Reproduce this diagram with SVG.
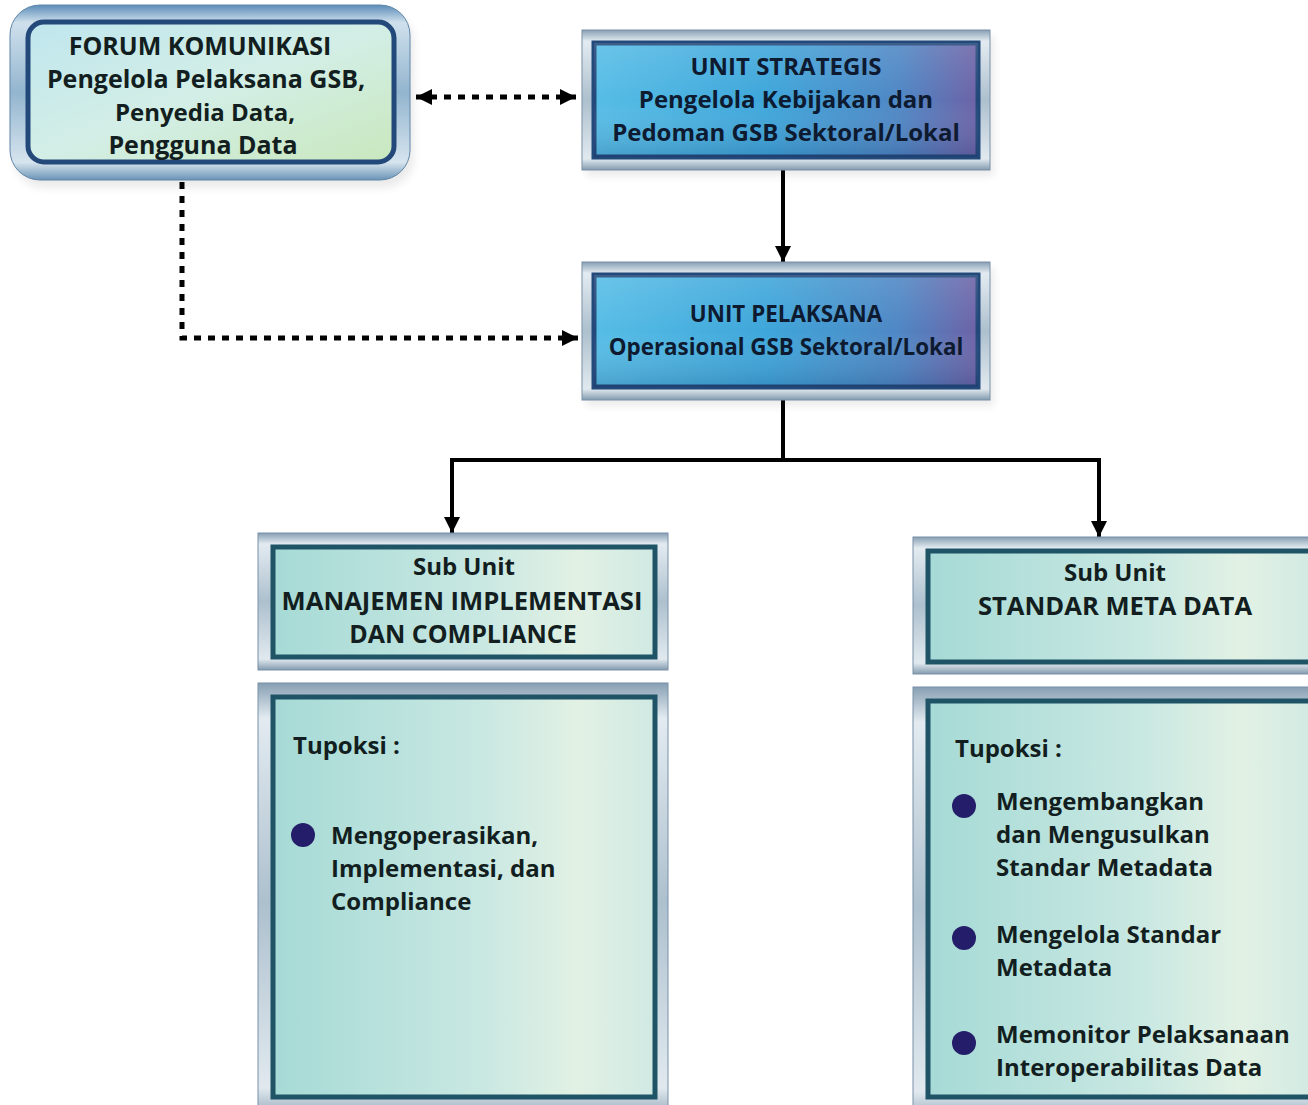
<svg xmlns="http://www.w3.org/2000/svg" width="1308" height="1105" viewBox="0 0 1308 1105">
  <defs>
    <style>
      .t { font-family: "Open Sans", "Noto Sans", "Liberation Sans", sans-serif; font-weight: 700; font-size: 24px; fill: #121e20; }
      .c { text-anchor: middle; }
      .navy { fill: #0d1a30; }
      .s22 { font-size: 22.4px; }
      .s25 { font-size: 25px; }
      .s26 { font-size: 25.6px; }
      .bezel { fill: url(#bezelGrad); stroke: #7890a6; stroke-width: 1; }
      .bezelBlue { fill: url(#bezelBlueGrad); stroke: #5f86a8; stroke-width: 1; }
      .frameTeal { stroke: #1f5366; stroke-width: 5; }
      .frameBlue { stroke: #23487a; stroke-width: 5; }
      .solid { fill: none; stroke: #000; stroke-width: 4; }
      .dotted { fill: none; stroke: #000; stroke-width: 5; stroke-dasharray: 7 7; }
      .bullet { fill: #241e6a; }
      .shadow { fill: #000; opacity: 0.08; filter: url(#soft); }
    </style>
    <linearGradient id="bezelGrad" x1="0" y1="0" x2="0" y2="1">
      <stop offset="0" stop-color="#879fb3"/>
      <stop offset="0.08" stop-color="#e3ebf1"/>
      <stop offset="0.5" stop-color="#adc0ce"/>
      <stop offset="0.92" stop-color="#e1e9ef"/>
      <stop offset="1" stop-color="#839bae"/>
    </linearGradient>
    <linearGradient id="bezelBlueGrad" x1="0" y1="0" x2="0" y2="1">
      <stop offset="0" stop-color="#5b8cb8"/>
      <stop offset="0.1" stop-color="#cfe0ec"/>
      <stop offset="0.5" stop-color="#93b5cf"/>
      <stop offset="0.9" stop-color="#d6e4ee"/>
      <stop offset="1" stop-color="#6a93b6"/>
    </linearGradient>
    <linearGradient id="forumFill" x1="0" y1="0" x2="1" y2="1">
      <stop offset="0" stop-color="#bfe6ee"/>
      <stop offset="0.5" stop-color="#d3eee6"/>
      <stop offset="1" stop-color="#c9e8bd"/>
    </linearGradient>
    <linearGradient id="blueFill" x1="0" y1="0" x2="1" y2="0">
      <stop offset="0" stop-color="#56bde6"/>
      <stop offset="0.45" stop-color="#3ea6da"/>
      <stop offset="0.8" stop-color="#4f86c4"/>
      <stop offset="1" stop-color="#6d62a6"/>
    </linearGradient>
    <linearGradient id="blueShade" x1="0" y1="0" x2="0" y2="1">
      <stop offset="0" stop-color="#ffffff" stop-opacity="0.12"/>
      <stop offset="0.5" stop-color="#ffffff" stop-opacity="0"/>
      <stop offset="1" stop-color="#0a2050" stop-opacity="0.18"/>
    </linearGradient>
    <linearGradient id="tealFill" x1="0" y1="0" x2="1" y2="0">
      <stop offset="0" stop-color="#a6dad6"/>
      <stop offset="0.55" stop-color="#c9e8e2"/>
      <stop offset="0.8" stop-color="#e2f1e4"/>
      <stop offset="1" stop-color="#cfe9e3"/>
    </linearGradient>
    <filter id="soft" x="-10%" y="-10%" width="120%" height="130%">
      <feGaussianBlur stdDeviation="4"/>
    </filter>
    <marker id="arrow" viewBox="0 0 16 16" refX="16" refY="8" markerWidth="16" markerHeight="16" markerUnits="userSpaceOnUse" orient="auto-start-reverse">
      <path d="M0,0 L16,8 L0,16 Z" fill="#000"/>
    </marker>
  </defs>

  <rect width="1308" height="1105" fill="#ffffff"/>

  <!-- Connectors -->
  <g id="connectors">
    <path class="dotted" d="M416,97 H576" marker-start="url(#arrow)" marker-end="url(#arrow)"/>
    <path class="dotted" d="M182,182 V338 H578" marker-end="url(#arrow)"/>
    <path class="solid" d="M783,170 V262" marker-end="url(#arrow)"/>
    <path class="solid" d="M783,400 V460 M452,460 H1099"/>
    <path class="solid" d="M452,458 V533" marker-end="url(#arrow)"/>
    <path class="solid" d="M1099,458 V537" marker-end="url(#arrow)"/>
  </g>

  <!-- Forum Komunikasi -->
  <g id="forum-komunikasi">
    <rect class="shadow" x="14" y="12" width="400" height="176" rx="30"/>
    <rect class="bezelBlue" x="10" y="5" width="400" height="175" rx="30"/>
    <rect x="28" y="22" width="366" height="140" rx="16" fill="url(#forumFill)" class="frameBlue"/>
    <text class="t c s25" x="200" y="55">FORUM KOMUNIKASI</text>
    <text class="t c s25" x="206" y="88">Pengelola Pelaksana GSB,</text>
    <text class="t c" x="205" y="121">Penyedia Data,</text>
    <text class="t c s25" x="203" y="154">Pengguna Data</text>
  </g>

  <!-- Unit Strategis -->
  <g id="unit-strategis">
    <rect class="shadow" x="586" y="36" width="408" height="140"/>
    <rect class="bezel" x="582" y="30" width="408" height="140"/>
    <rect x="594" y="43" width="384" height="114" fill="url(#blueFill)" class="frameBlue"/>
    <rect x="594" y="43" width="384" height="114" fill="url(#blueShade)"/>
    <text class="t c navy" x="786" y="75">UNIT STRATEGIS</text>
    <text class="t c navy" x="786" y="108">Pengelola Kebijakan dan</text>
    <text class="t c navy" x="786" y="141">Pedoman GSB Sektoral/Lokal</text>
  </g>

  <!-- Unit Pelaksana -->
  <g id="unit-pelaksana">
    <rect class="shadow" x="586" y="268" width="408" height="138"/>
    <rect class="bezel" x="582" y="262" width="408" height="138"/>
    <rect x="594" y="275" width="384" height="112" fill="url(#blueFill)" class="frameBlue"/>
    <rect x="594" y="275" width="384" height="112" fill="url(#blueShade)"/>
    <text class="t c navy s22" x="786" y="322">UNIT PELAKSANA</text>
    <text class="t c navy s22" x="786" y="355">Operasional GSB Sektoral/Lokal</text>
  </g>

  <!-- Sub Unit Manajemen Implementasi dan Compliance -->
  <g id="sub-unit-manajemen">
    <rect class="bezel" x="258" y="533" width="410" height="137"/>
    <rect x="273" y="547" width="382" height="110" fill="url(#tealFill)" class="frameTeal"/>
    <text class="t c" x="464" y="575">Sub Unit</text>
    <text class="t c s26" x="462" y="610">MANAJEMEN IMPLEMENTASI</text>
    <text class="t c s25" x="463" y="643">DAN COMPLIANCE</text>
  </g>

  <!-- Tupoksi Manajemen -->
  <g id="tupoksi-manajemen">
    <rect class="bezel" x="258" y="683" width="410" height="440"/>
    <rect x="273" y="697" width="382" height="400" fill="url(#tealFill)" class="frameTeal"/>
    <text class="t" x="293" y="754">Tupoksi :</text>
    <circle class="bullet" cx="303" cy="835" r="12"/>
    <text class="t" x="331" y="844">Mengoperasikan,</text>
    <text class="t" x="331" y="877">Implementasi, dan</text>
    <text class="t" x="331" y="910">Compliance</text>
  </g>

  <!-- Sub Unit Standar Meta Data -->
  <g id="sub-unit-standar">
    <rect class="bezel" x="913" y="537" width="410" height="137"/>
    <rect x="928" y="551" width="392" height="111" fill="url(#tealFill)" class="frameTeal"/>
    <text class="t c" x="1115" y="581">Sub Unit</text>
    <text class="t c s26" x="1115" y="615">STANDAR META DATA</text>
  </g>

  <!-- Tupoksi Standar Meta Data -->
  <g id="tupoksi-standar">
    <rect class="bezel" x="913" y="687" width="410" height="440"/>
    <rect x="928" y="701" width="392" height="396" fill="url(#tealFill)" class="frameTeal"/>
    <text class="t" x="955" y="757">Tupoksi :</text>
    <circle class="bullet" cx="964" cy="806" r="12"/>
    <text class="t" x="996" y="810">Mengembangkan</text>
    <text class="t" x="996" y="843">dan Mengusulkan</text>
    <text class="t" x="996" y="876">Standar Metadata</text>
    <circle class="bullet" cx="964" cy="938" r="12"/>
    <text class="t" x="996" y="943">Mengelola Standar</text>
    <text class="t" x="996" y="976">Metadata</text>
    <circle class="bullet" cx="964" cy="1043" r="12"/>
    <text class="t" x="996" y="1043">Memonitor Pelaksanaan</text>
    <text class="t" x="996" y="1076">Interoperabilitas Data</text>
  </g>
</svg>
